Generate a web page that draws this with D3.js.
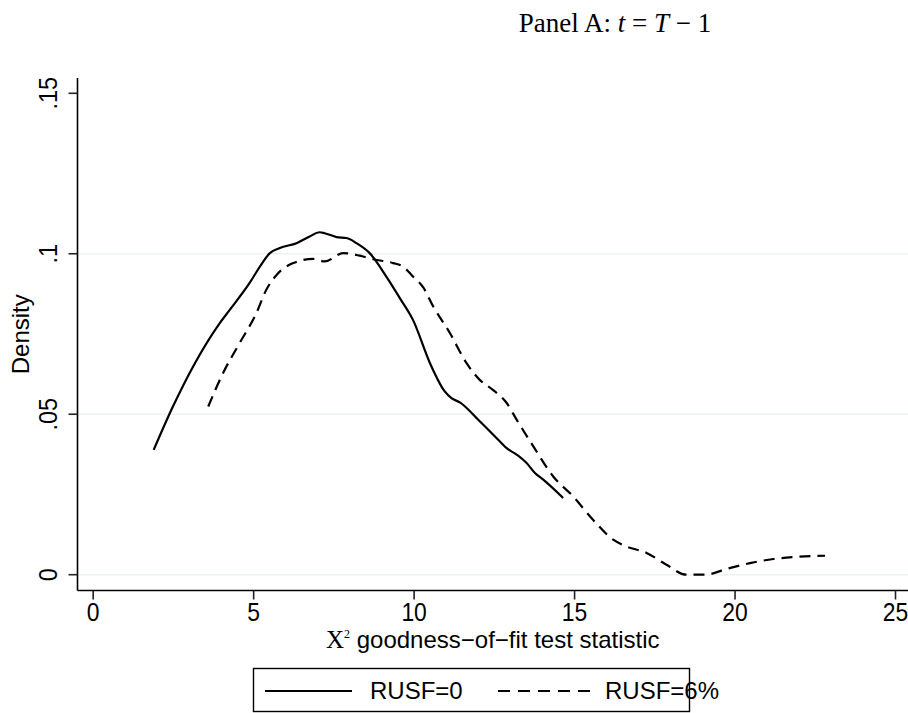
<!DOCTYPE html>
<html><head><meta charset="utf-8">
<script src="https://cdn.jsdelivr.net/npm/d3@7"></script>
<style>body{margin:0;background:#fff}svg{display:block}</style>
</head><body>
<svg id="c" width="908" height="713"></svg>
<script>
// ---- data ----
const seriesNames = ["RUSF=0", "RUSF=6%"];
const rusf0X = [1.90,2.50,3.13,3.96,4.27,4.89,5.21,5.52,5.83,6.35,6.76,7.07,7.23,7.60,7.91,8.22,8.63,9.15,9.57,9.98,10.51,10.97,11.18,11.44,12.06,12.69,12.89,13.21,13.52,13.78,14.04,14.66];
const rusf0Y = [.0389,.0524,.0649,.0784,.0825,.0909,.0960,.1002,.1018,.1033,.1054,.1067,.1064,.1052,.1049,.1033,.1002,.0929,.0862,.0794,.0659,.0571,.0550,.0537,.0478,.0415,.0395,.0374,.0348,.0317,.0296,.0239];
const rusf6X = [3.60,4.06,4.58,5.10,5.41,5.73,6.25,6.87,7.23,7.80,8.32,8.74,9.36,9.67,9.98,10.30,10.61,11.13,11.65,12.06,12.47,12.90,13.21,13.73,14.35,14.97,15.59,16.22,16.63,17.26,17.88,18.50,19.10,19.75,20.48,21.21,21.83,22.82];
const rusf6Y = [.0524,.0628,.0722,.0815,.0888,.0934,.0971,.0984,.0976,.1002,.0994,.0983,.0971,.0960,.0929,.0895,.0836,.0753,.0659,.0607,.0576,.0535,.0483,.0400,.0306,.0244,.0171,.0109,.0088,.0068,.0031,.0000,.0000,.0018,.0036,.0049,.0055,.0059];
const xTicks = [0,5,10,15,20,25];
const yTicks = [0,.05,.1,.15];
const yTickLabels = ["0",".05",".1",".15"];
const gridTicks = [0,.05,.1];

const svg = d3.select("#c");
const sans = "'Liberation Sans', Arial, sans-serif";
const serif = "'Liberation Serif', 'Times New Roman', serif";

const x = d3.scaleLinear().domain([0,25]).range([92.7,895]);
const y = d3.scaleLinear().domain([0,.15]).range([574.7,93.3]);
const axX = 77.5, axY = 590.5, plotRight = 908, plotTop = 78;

// gridlines
svg.append("g").selectAll("line").data(gridTicks).join("line")
  .attr("x1",axX).attr("x2",plotRight)
  .attr("y1",d=>y(d)).attr("y2",d=>y(d))
  .attr("stroke","#eaf2f3").attr("stroke-width",1.6);

// y axis
const yAxis = d3.axisLeft(y).tickValues(yTicks).tickSize(9).tickPadding(0)
  .tickFormat((d,i)=>yTickLabels[i]);
const gy = svg.append("g").attr("transform",`translate(${axX},0)`).call(yAxis);
gy.select(".domain").attr("d",`M0,${plotTop}V${axY}`).attr("stroke","#000").attr("stroke-width",1.6);
gy.selectAll(".tick").attr("transform",null);
gy.selectAll(".tick line").attr("stroke","#222").attr("stroke-width",1.6)
  .attr("y1",d=>y(d)).attr("y2",d=>y(d));
gy.selectAll(".tick text").attr("font-family",sans).attr("font-size",26).attr("fill","#000")
  .attr("transform",d=>`translate(-30,${y(d)}) rotate(-90) scale(0.9,1)`)
  .attr("x",0).attr("y",0).attr("dy","0.35em").attr("text-anchor","middle");

// x axis
const xAxis = d3.axisBottom(x).tickValues(xTicks).tickSize(9).tickPadding(5).tickFormat(d3.format("d"));
const gx = svg.append("g").attr("transform",`translate(0,${axY})`).call(xAxis);
gx.select(".domain").attr("d",`M${axX},0H${plotRight}`).attr("stroke","#000").attr("stroke-width",1.6);
gx.selectAll(".tick line").attr("stroke","#222").attr("stroke-width",1.6);
gx.selectAll(".tick text").attr("font-family",sans).attr("font-size",26).attr("fill","#000")
  .attr("transform","scale(0.88,1)").attr("x",0).attr("y",12).attr("dy","0.71em");

// axis titles
svg.append("text").attr("font-family",sans).attr("font-size",24).attr("fill","#000")
  .attr("text-anchor","middle").attr("transform",`translate(29,${(plotTop+axY)/2}) rotate(-90)`)
  .text("Density");
const xl = svg.append("text").attr("font-size",24).attr("fill","#000")
  .attr("text-anchor","middle").attr("x",(axX+plotRight)/2).attr("y",648);
xl.append("tspan").attr("font-family",serif).attr("font-size",25).text("X");
xl.append("tspan").attr("font-family",serif).attr("font-size",12).attr("dy",-10).text("2");
xl.append("tspan").attr("font-family",sans).attr("dy",10).text(" goodness\u2212of\u2212fit test statistic");

// title
const t = svg.append("text").attr("font-family",serif).attr("font-size",27).attr("fill","#000")
  .attr("text-anchor","middle").attr("x",615).attr("y",32);
t.append("tspan").text("Panel A: ");
t.append("tspan").attr("font-style","italic").text("t");
t.append("tspan").text(" = ");
t.append("tspan").attr("font-style","italic").text("T");
t.append("tspan").text(" \u2212 1");

// lines
const line = d3.line().x(d=>x(d[0])).y(d=>y(d[1])).curve(d3.curveMonotoneX);
const d0 = rusf0X.map((v,i)=>[v,rusf0Y[i]]);
const d6 = rusf6X.map((v,i)=>[v,rusf6Y[i]]);
svg.append("path").datum(d0).attr("d",line).attr("fill","none").attr("stroke","#000").attr("stroke-width",2.2);
svg.append("path").datum(d6).attr("d",line).attr("fill","none").attr("stroke","#000").attr("stroke-width",2.2)
  .attr("stroke-dasharray","11,7");

// legend
const lg = svg.append("g");
lg.append("rect").attr("x",253.5).attr("y",668.5).attr("width",436).attr("height",43)
  .attr("fill","#fff").attr("stroke","#000").attr("stroke-width",1.4);
const ly = 691;
lg.append("line").attr("x1",265).attr("x2",352).attr("y1",ly).attr("y2",ly).attr("stroke","#000").attr("stroke-width",2.2);
lg.append("text").attr("x",370).attr("y",ly).attr("dy","0.35em").attr("font-family",sans).attr("font-size",24).text(seriesNames[0]);
lg.append("line").attr("x1",498).attr("x2",590).attr("y1",ly).attr("y2",ly).attr("stroke","#000").attr("stroke-width",2.2).attr("stroke-dasharray","12,8");
lg.append("text").attr("x",605).attr("y",ly).attr("dy","0.35em").attr("font-family",sans).attr("font-size",24).text(seriesNames[1]);
</script>
</body></html>
